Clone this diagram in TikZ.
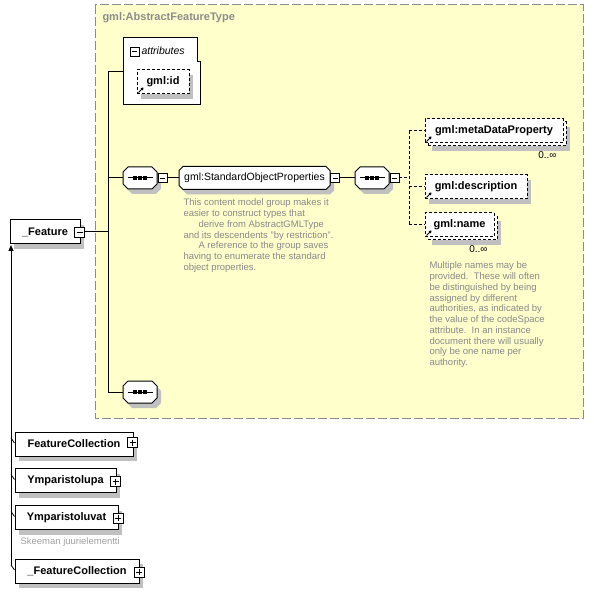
\documentclass[tikz,border=0pt]{standalone}
\usepackage{fontspec}
\setmainfont{Liberation Sans}
\usetikzlibrary{shadows,arrows.meta}
\definecolor{bgyellow}{HTML}{FFFFCC}
\definecolor{shadowgray}{HTML}{C0C0C0}
\definecolor{bordergray}{HTML}{8C8C8C}
\definecolor{descgray}{HTML}{888888}
\definecolor{notegray}{HTML}{A0A0A0}
\tikzset{
  shad/.style={drop shadow={shadow xshift=4pt, shadow yshift=-5pt, fill=shadowgray, opacity=1}},
  elem/.style={draw, fill=white, rectangle, inner sep=0pt, minimum height=24pt, shad,
    font=\fontsize{11}{13}\selectfont\bfseries},
  delem/.style={elem, dash pattern=on 3pt off 2pt},
  delemnoshad/.style={draw, fill=white, rectangle, inner sep=0pt, minimum height=24pt,
    dash pattern=on 3pt off 2pt, font=\fontsize{11}{13}\selectfont\bfseries},
  pmbox/.style={draw, fill=white, minimum size=10pt, inner sep=0pt, line width=0.8pt},
  minusbox/.style={pmbox, path picture={\draw[line width=0.8pt]
      ([xshift=2pt]path picture bounding box.west) -- ([xshift=-2pt]path picture bounding box.east);}},
  plusbox/.style={pmbox, path picture={\draw[line width=0.8pt]
      ([xshift=2pt]path picture bounding box.west) -- ([xshift=-2pt]path picture bounding box.east)
      ([yshift=-2pt]path picture bounding box.north) -- ([yshift=2pt]path picture bounding box.south);}},
  holder/.style={rectangle, inner sep=0pt, draw=none},
  grptext/.style={font=\fontsize{10.5}{12}\selectfont},
  desctext/.style={anchor=north west, inner sep=0pt, align=left, text=descgray,
    font=\fontsize{9.5}{10.75}\selectfont},
  occ/.style={anchor=east, inner sep=0pt, font=\fontsize{10}{12}\selectfont},
  linkarrow/.style={-{Triangle[length=2.5pt,width=3.2pt]}, line width=0.9pt},
  dashconn/.style={dash pattern=on 3pt off 2pt},
}
% chamfered outline: #1 options, #2 x, #3 y (centre), #4 width, #5 height, #6 chamfer
\newcommand\champath[6]{%
  \path[#1] (#2,#3) ++({-#4/2+#6},{-#5/2}) -- ++({#4-2*#6},0) -- ++(#6,#6) -- ++(0,{#5-2*#6})
    -- ++(-#6,#6) -- ++({-#4+2*#6},0) -- ++(-#6,-#6) -- ++(0,{-#5+2*#6}) -- cycle;}
% chamfered box with shadow and a named node: #1 name, #2 x, #3 y, #4 w, #5 h, #6 chamfer, #7 style, #8 text
\newcommand\chambox[8]{%
  \champath{fill=shadowgray}{#2+4}{#3+5}{#4}{#5}{#6}
  \champath{draw,fill=white}{#2}{#3}{#4}{#5}{#6}
  \node[holder, #7, minimum width=#4pt, minimum height=#5pt] (#1) at (#2,#3) {#8};}
\newcommand\seqdots[1]{%
  \draw ([xshift=5pt]#1.west) -- ([xshift=-5pt]#1.east);
  \fill ([xshift=-5pt]#1.center) +(-1.6,-1.6) rectangle +(1.6,1.6);
  \fill (#1.center) +(-1.6,-1.6) rectangle +(1.6,1.6);
  \fill ([xshift=5pt]#1.center) +(-1.6,-1.6) rectangle +(1.6,1.6);}
\newcommand\linkicon[1]{%
  \draw[linkarrow] ([shift={(2,-2)}]#1.south west) -- ++(5,-5);}
\begin{document}
\begin{tikzpicture}[x=1pt,y=-1pt,line width=1pt]
\useasboundingbox[fill=white] (0,0) rectangle (594,593);

% complex type frame
\draw[bordergray, dash pattern=on 9pt off 3pt, fill=bgyellow] (95,5) rectangle (583,418);
\node[anchor=west, inner sep=0pt, text=bordergray, font=\fontsize{11}{13}\selectfont\bfseries]
  (title) at (102,18) {gml:AbstractFeatureType};

% attributes
\draw[fill=white] (123,38) -- (197,38) -- (197,62) -- (200,62) -- (200,105) -- (123,105) -- cycle;
\coordinate (attrL) at (123,72);
\node[minusbox, minimum size=9pt] (attrm) at (134.5,51.5) {};
\node[anchor=west, inner sep=0pt, font=\fontsize{10.5}{12}\selectfont\itshape] (attrt) at (141,51) {attributes};
\node[delem, minimum width=52pt] (gid) at (163,82) {gml:id};
\linkicon{gid}

% root element
\node[elem, minimum width=70pt] (feat) at (45,232) {\_Feature};
\node[minusbox] (featm) at (79.5,232) {};

% trunk
\coordinate (trunkTop) at (108,72);
\chambox{s1}{140}{178}{34}{22}{5}{}{}
\seqdots{s1}
\chambox{s3}{140}{392}{34}{22}{5}{}{}
\seqdots{s3}
\draw (attrL) -- (trunkTop) -- (trunkTop |- s3.west) -- (s3.west);
\draw (featm.east) -- (featm.east -| trunkTop);
\draw (trunkTop |- s1.west) -- (s1.west);

% group
\node[minusbox, minimum size=9pt] (s1m) at (162.5,178) {};
\chambox{gsop}{254.5}{178}{151}{23}{4}{grptext}{gml:StandardObjectProperties}
\node[minusbox, minimum size=9pt] (gsopm) at (335,178) {};
\draw (s1m.east) -- (gsop.west);
\node[desctext] (gsopd) at (183,198.6) {This content model group makes it\\
easier to construct types that\\
\hspace*{15pt}derive from AbstractGMLType\\
and its descendents "by restriction".\\
\hspace*{15pt}A reference to the group saves\\
having to enumerate the standard\\
object properties.};

% inner sequence
\chambox{s2}{372}{178}{34}{22}{5}{}{}
\seqdots{s2}
\node[minusbox, minimum size=9pt] (s2m) at (394.5,178) {};
\draw (gsopm.east) -- (s2.west);

% children
\node[delem, minimum width=138pt, shift={(3,3)}] (mdpb) at (494,131) {};
\node[delemnoshad, minimum width=138pt] (mdp) at (494,131) {gml:metaDataProperty};
\linkicon{mdp}
\node[occ] (mdpo) at (557,155) {0..∞};

\node[delem, minimum width=102pt] (desc) at (476,187) {gml:description};
\linkicon{desc}

\node[delem, minimum width=69pt, shift={(3,3)}] (nmb) at (459.5,225) {};
\node[delemnoshad, minimum width=69pt] (nm) at (459.5,225) {gml:name};
\linkicon{nm}
\node[occ] (nmo) at (488,249) {0..∞};
\node[desctext] (nmd) at (429,261.6) {Multiple names may be\\
provided.\ \ These will often\\
be distinguished by being\\
assigned by different\\
authorities, as indicated by\\
the value of the codeSpace\\
attribute.\ \ In an instance\\
document there will usually\\
only be one name per\\
authority.};

\coordinate (br) at (409,178);
\draw[dashconn] (s2m.east) -- (br);
\draw[dashconn] (br |- mdp.west) -- (br |- nm.west);
\draw[dashconn] (br |- mdp.west) -- (mdp.west);
\draw[dashconn] (br |- desc.west) -- (desc.west);
\draw[dashconn] (br |- nm.west) -- (nm.west);

% substitution group members
\node[elem, minimum width=118pt] (fc) at (74,444) {FeatureCollection};
\node[plusbox] (fcp) at (132.5,442.5) {};
\node[elem, minimum width=101pt] (yl) at (65.5,480.5) {Ymparistolupa};
\node[plusbox] (ylp) at (115.5,481.5) {};
\node[elem, minimum width=103pt] (yv) at (66.5,517.5) {Ymparistoluvat};
\node[plusbox] (yvp) at (118,518) {};
\node[anchor=west, inner sep=0pt, text=notegray, font=\fontsize{9.5}{11}\selectfont] (yvd) at (20,542) {Skeeman juurielementti};
\node[elem, minimum width=124pt] (fc2) at (77,571) {\_FeatureCollection};
\node[plusbox] (fc2p) at (139,572) {};

\coordinate (subTop) at (11,245);
\coordinate (subBot) at (11,566);
\draw[{Triangle[length=6pt,width=5pt]}-] (subTop) -- (subBot);
\foreach \b in {fc,yl,yv,fc2}{
  \draw[line width=0.8pt] ([yshift=6pt]\b.west -| subTop) -- ([yshift=1pt]\b.west);
}
\end{tikzpicture}
\end{document}
